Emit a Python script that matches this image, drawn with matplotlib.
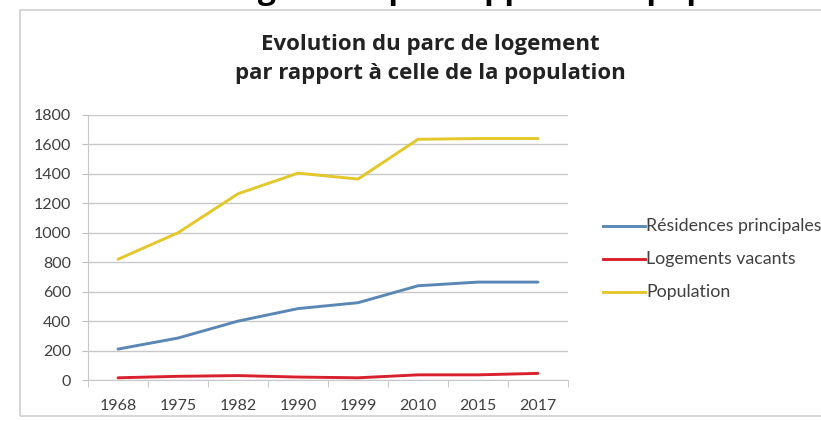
import matplotlib
matplotlib.use("Agg")
import matplotlib.pyplot as plt
from matplotlib.patches import Rectangle
import numpy as np

years = ["1968", "1975", "1982", "1990", "1999", "2010", "2015", "2017"]
residences = [210, 285, 400, 485, 525, 640, 665, 665]
vacants = [15, 25, 30, 20, 15, 35, 35, 45]
population = [820, 1000, 1265, 1405, 1365, 1635, 1640, 1640]
series_names = ["Résidences principales", "Logements vacants", "Population"]
colors = ["#5B87B4", "#D9212E", "#E3C72B"]
yticks = list(range(0, 2000, 200))

plt.rcParams['font.family'] = ['Lato', 'DejaVu Sans']

W, H = 821, 421
fig = plt.figure(figsize=(W / 100, H / 100), dpi=100)

def fx(px):
    return px / W

def fy(py):
    return 1 - py / H

# chart frame
fig.patches.append(Rectangle((fx(20), fy(416)), fx(900) - fx(20), fy(10) - fy(416),
                             transform=fig.transFigure, fill=False,
                             edgecolor="#D0D0D0", linewidth=1.2))

# cut-off heading at top (only its descenders show, as in the source)
fig.text(fx(821), fy(-2), "Le logement par rapport à la population", ha="right", va="baseline",
         fontsize=23, fontweight="bold", color="black", family=["Open Sans", "DejaVu Sans"])

ax = fig.add_axes([fx(88), fy(380), fx(568) - fx(88), fy(115) - fy(380)])
x = np.arange(len(years))
data = [residences, vacants, population]
lines = []
for vals, c, n in zip(data, colors, series_names):
    l, = ax.plot(x, vals, color=c, linewidth=2.1, label=n, solid_capstyle="round", zorder=3)
    lines.append(l)

ax.set_xlim(-0.5, len(years) - 0.5)
ax.set_ylim(0, 1800)
ax.set_yticks(yticks)
ax.set_yticklabels([str(v) for v in yticks])
ax.set_xticks(x)
ax.set_xticklabels(years)
ax.set_xticks(np.arange(-0.5, len(years) + 0.5, 1), minor=True)
ax.tick_params(axis="x", which="major", length=0, pad=14, labelsize=11.5, labelcolor="#404040")
ax.tick_params(axis="x", which="minor", length=5, color="#BFBFBF", direction="out")
ax.tick_params(axis="y", length=4, color="#BFBFBF", labelsize=11.5, labelcolor="#404040", pad=8)
ax.grid(axis="y", color="#C8C8C8", linewidth=1.0, zorder=0)
for s in ["top", "right"]:
    ax.spines[s].set_visible(False)
ax.spines["left"].set_color("#C8C8C8")
ax.spines["bottom"].set_color("#C8C8C8")
ax.set_facecolor("none")

fig.text(fx(430), fy(59), "Evolution du parc de logement\npar rapport à celle de la population",
         ha="center", va="center", fontsize=16, fontweight="bold", color="#222222",
         linespacing=1.5, family=["Open Sans", "DejaVu Sans"])

# legend
leg_y = [226, 259, 292]
for l, n, yy in zip(lines, series_names, leg_y):
    fig.add_artist(plt.Line2D([fx(603), fx(645)], [fy(yy), fy(yy)], transform=fig.transFigure,
                              color=l.get_color(), linewidth=2.1))
    fig.text(fx(646), fy(yy), n, ha="left", va="center", fontsize=12.8, color="#404040")

fig.savefig("out.png", dpi=100)
